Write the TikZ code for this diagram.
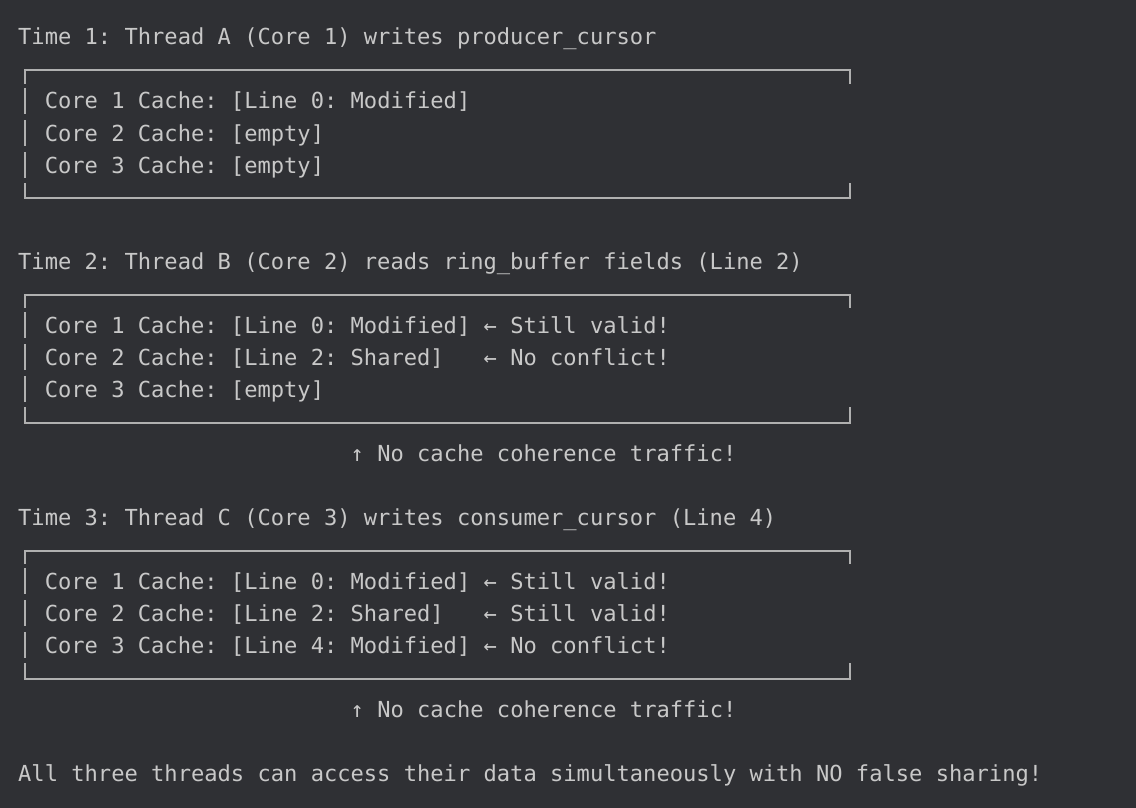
\documentclass[tikz,border=0pt]{standalone}
\usepackage{fontspec}
\newfontfamily\mono{DejaVu Sans Mono}
\definecolor{bg}{HTML}{2F3034}
\definecolor{fg}{HTML}{C8C8C8}
\definecolor{ln}{HTML}{B0B0B0}
\begin{document}
\frenchspacing
\begin{tikzpicture}[x=1pt,y=-1pt,
  txt/.style={anchor=base west, inner sep=0pt, text=fg, font=\mono\fontsize{22.09}{26}\selectfont\frenchspacing},
  border/.style={draw=ln, line width=2pt}]
\fill[bg] (0,0) rectangle (1136,808);
\useasboundingbox (0,0) rectangle (1136,808);
\def\W{13.3}
% boxes (row of top border, y of border lines)
\foreach \t/\h in {69/70,293/295,549/551}{
  \pgfmathsetmacro{\b}{\h+128}
  \draw[border] (24.6,\t+15) -- (24.6,\h) -- (849.5,\h) -- (849.5,\t+15);
  \draw[border] (24.6,\t+128-14) -- (24.6,\b) -- (849.5,\b) -- (849.5,\t+128-14);
  \foreach \r in {1,2,3}{
    \draw[border] (24.6,{\t+32*\r-13}) -- (24.6,{\t+32*\r+13});
  }
}
% titles
\node[txt] (t1) at (18,45) {Time 1: Thread A (Core 1) writes producer\_cursor};
\node[txt] (b1a) at ({18+2*\W},109) {Core 1 Cache: [Line 0: Modified]};
\node[txt] (b1b) at ({18+2*\W},141) {Core 2 Cache: [empty]};
\node[txt] (b1c) at ({18+2*\W},173) {Core 3 Cache: [empty]};

\node[txt] (t2) at (18,269) {Time 2: Thread B (Core 2) reads ring\_buffer fields (Line 2)};
\node[txt] (b2a) at ({18+2*\W},333) {Core 1 Cache: [Line 0: Modified]};
\node[txt] (b2an) at ({18+35*\W},333) {← Still valid!};
\node[txt] (b2b) at ({18+2*\W},365) {Core 2 Cache: [Line 2: Shared]};
\node[txt] (b2bn) at ({18+35*\W},365) {← No conflict!};
\node[txt] (b2c) at ({18+2*\W},397) {Core 3 Cache: [empty]};
\node[txt] (n2) at ({18+25*\W},461) {↑ No cache coherence traffic!};

\node[txt] (t3) at (18,525) {Time 3: Thread C (Core 3) writes consumer\_cursor (Line 4)};
\node[txt] (b3a) at ({18+2*\W},589) {Core 1 Cache: [Line 0: Modified]};
\node[txt] (b3an) at ({18+35*\W},589) {← Still valid!};
\node[txt] (b3b) at ({18+2*\W},621) {Core 2 Cache: [Line 2: Shared]};
\node[txt] (b3bn) at ({18+35*\W},621) {← Still valid!};
\node[txt] (b3c) at ({18+2*\W},653) {Core 3 Cache: [Line 4: Modified]};
\node[txt] (b3cn) at ({18+35*\W},653) {← No conflict!};
\node[txt] (n3) at ({18+25*\W},717) {↑ No cache coherence traffic!};

\node[txt] (fin) at (18,781) {All three threads can access their data simultaneously with NO false sharing!};
\end{tikzpicture}
\end{document}
